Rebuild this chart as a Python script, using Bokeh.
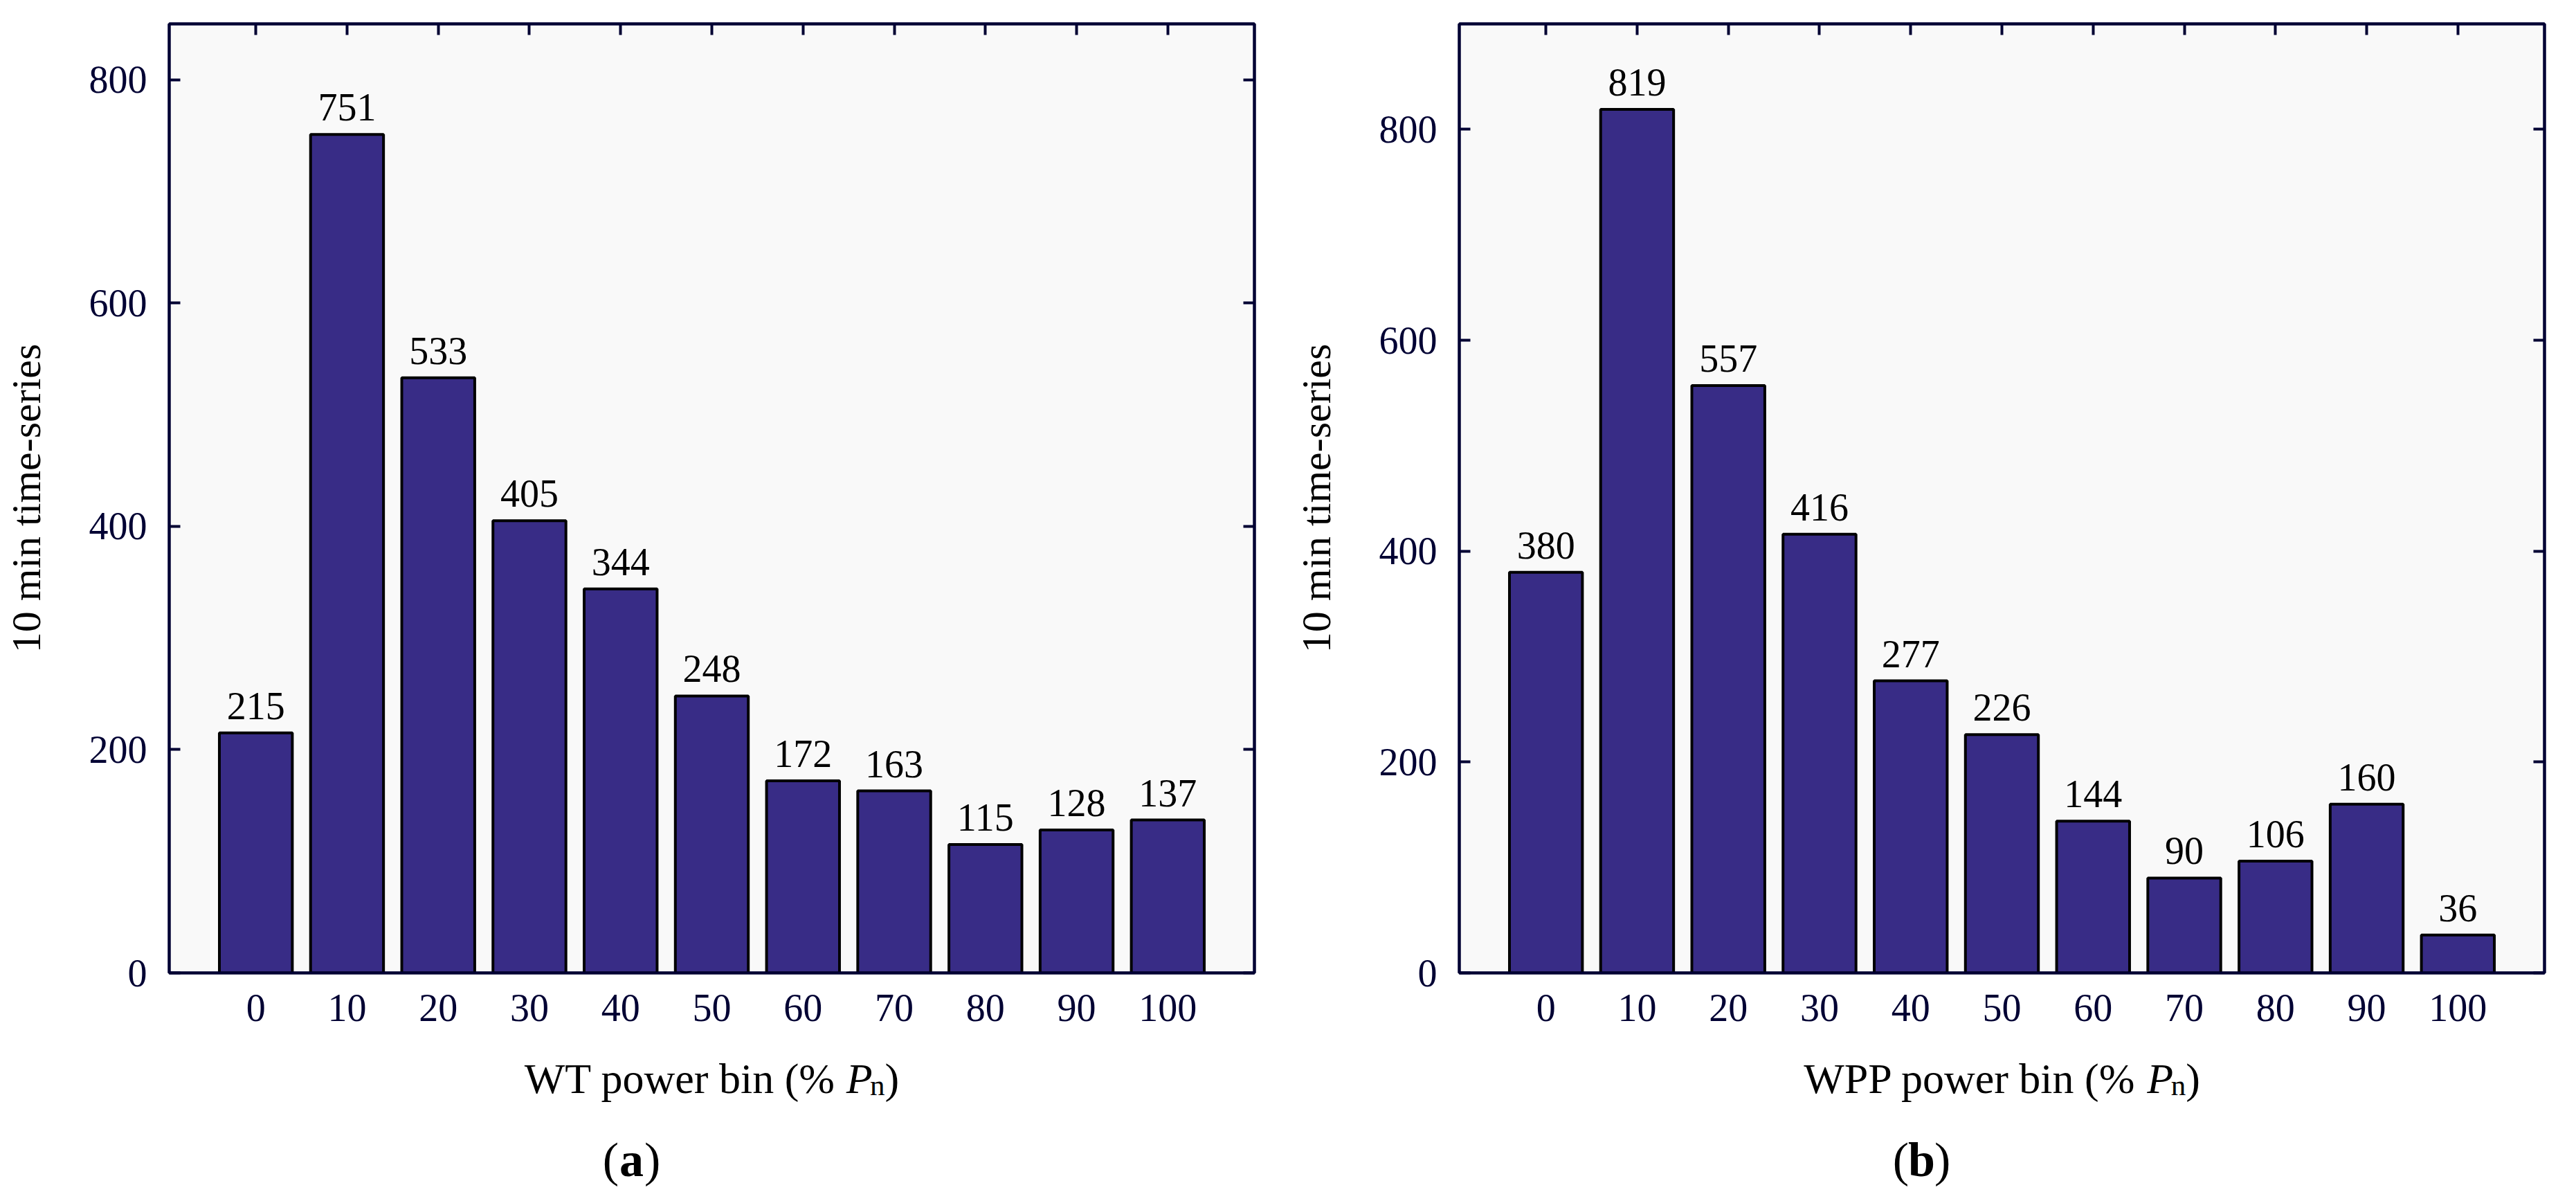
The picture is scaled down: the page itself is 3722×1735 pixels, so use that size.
from bokeh.plotting import figure
from bokeh.models import (Range1d, FactorRange, CategoricalAxis, LinearAxis,
                          FixedTicker, ColumnDataSource)
from bokeh.layouts import row, column
from bokeh.embed import file_html
from bokeh.resources import INLINE
from bokeh.core.properties import value

# ---------------- data ----------------
bins = ["0", "10", "20", "30", "40", "50", "60", "70", "80", "90", "100"]
wt_counts = [215, 751, 533, 405, 344, 248, 172, 163, 115, 128, 137]
wpp_counts = [380, 819, 557, 416, 277, 226, 144, 90, 106, 160, 36]
y_ticks = [0, 200, 400, 600, 800]
y_max_a = 850
y_max_b = 900
x_prefix_a = "WT power bin (%"
x_prefix_b = "WPP power bin (%"
y_label = "10 min time-series"
caption_a = "a"
caption_b = "b"

# ---------------- style ----------------
NAVY = "#000033"
BAR = "#382c86"
FONT = "Liberation Serif"
FIG_W = 1853
MAIN_H = 1502
FOOT_H = 217
FRAME_W = 1568
FRAME_H = 1371
TOP = 34
BOTTOM = MAIN_H - TOP - FRAME_H
PAD = 0.45  # absolute padding of the factor range (total)
NUM_FS = "56px"

# approx advance widths (em) of Times-metric font
EM = {"W": .944, "T": .611, "P": .556, " ": .25, "p": .5, "o": .5, "w": .722,
      "e": .444, "r": .333, "b": .5, "i": .278, "n": .5, "(": .333, "%": .833, ")": .333}


def text_w(s, size):
    return sum(EM.get(c, .5) for c in s) * size


def style_axis(ax, labels=True):
    ax.axis_line_color = NAVY
    ax.axis_line_width = 4
    ax.major_tick_line_color = NAVY
    ax.major_tick_line_width = 4
    ax.major_tick_out = 0
    ax.major_tick_in = 16
    ax.minor_tick_line_color = None
    ax.major_label_text_font = FONT
    ax.major_label_text_font_size = NUM_FS
    ax.major_label_text_color = NAVY
    if not labels:
        ax.major_label_text_color = None
        ax.major_label_text_font_size = "1px"
        ax.major_label_standoff = 0


def make_main(counts, ymax, left_b):
    right_b = FIG_W - left_b - FRAME_W
    p = figure(width=FIG_W, height=MAIN_H,
               x_range=FactorRange(factors=bins, range_padding=PAD,
                                   range_padding_units="absolute"),
               y_range=Range1d(0, ymax),
               output_backend="svg", toolbar_location=None,
               min_border_left=left_b, min_border_right=right_b,
               min_border_top=TOP, min_border_bottom=BOTTOM,
               background_fill_color="#f9f9f9", border_fill_color="white")
    p.grid.visible = False
    p.outline_line_color = NAVY
    p.outline_line_width = 4

    src = ColumnDataSource(dict(x=bins, top=counts, lab=[str(c) for c in counts]))
    p.vbar(x="x", top="top", width=0.8, source=src, fill_color=BAR,
           line_color="black", line_width=4)
    p.text(x="x", y="top", text="lab", source=src, text_align="center",
           text_baseline="alphabetic", y_offset=-39, text_font=value(FONT),
           text_font_size=NUM_FS, text_color="black")

    ya = p.yaxis[0]
    ya.ticker = FixedTicker(ticks=y_ticks)
    style_axis(ya)
    ya.major_label_standoff = 32
    ya.axis_label = y_label
    ya.axis_label_text_font = FONT
    ya.axis_label_text_font_size = "60px"
    ya.axis_label_text_font_style = "normal"
    ya.axis_label_text_color = "black"
    ya.axis_label_standoff = 55

    xa = p.xaxis[0]
    style_axis(xa)
    xa.major_tick_in = 0
    xa.major_label_standoff = 31

    ra = LinearAxis(ticker=FixedTicker(ticks=y_ticks))
    style_axis(ra, labels=False)
    p.add_layout(ra, "right")
    ta = CategoricalAxis()
    style_axis(ta, labels=False)
    p.add_layout(ta, "above")
    return p


def make_footer(prefix, cap, left_b):
    right_b = FIG_W - left_b - FRAME_W
    # footer frame lines up with the plot frame above; coordinates are pixels
    # measured from the frame's left edge and the footer's bottom edge
    f = figure(width=FIG_W, height=FOOT_H, x_range=Range1d(0, FRAME_W),
               y_range=Range1d(0, FOOT_H), x_axis_type=None, y_axis_type=None,
               output_backend="svg", toolbar_location=None,
               min_border_left=left_b, min_border_right=right_b,
               min_border_top=0, min_border_bottom=0)
    f.grid.visible = False
    f.outline_line_color = None
    f.background_fill_color = "white"
    f.border_fill_color = "white"

    def lab(x, y, text, size, style="normal", align="left"):
        f.text(x=[x], y=[y], text=[text], text_font=value(FONT),
               text_font_size=f"{size}px", text_font_style=style,
               text_color="black", text_baseline="alphabetic", text_align=align)

    # x axis label, centred under the frame
    fs, sub_fs = 62, 43
    pre_w = text_w(prefix + " ", fs)
    total = pre_w + text_w("P", fs) + text_w("n", sub_fs) + text_w(")", fs)
    x0 = FRAME_W / 2 - total / 2
    base = 162
    xp = x0 + pre_w
    xn = xp + text_w("P", fs)
    xc = xn + text_w("n", sub_fs)
    lab(x0, base, prefix, fs)
    lab(xp, base, "P", fs, "italic")
    lab(xn, base - 10, "n", sub_fs)
    lab(xc, base, ")", fs)

    # caption (a)/(b)
    cfs = 70
    ccx = 668
    cbase = 44
    half = text_w(cap, cfs) / 2 + 1
    lab(ccx - half, cbase, "(", cfs, align="right")
    lab(ccx, cbase, cap, cfs, "bold", align="center")
    lab(ccx + half, cbase, ")", cfs, align="left")
    return f


p1 = make_main(wt_counts, y_max_a, 244)
f1 = make_footer(x_prefix_a, caption_a, 244)
p2 = make_main(wpp_counts, y_max_b, 255)
f2 = make_footer(x_prefix_b, caption_b, 255)

layout = row(column(p1, f1), column(p2, f2))
open("out.html", "w").write(file_html(layout, INLINE))
